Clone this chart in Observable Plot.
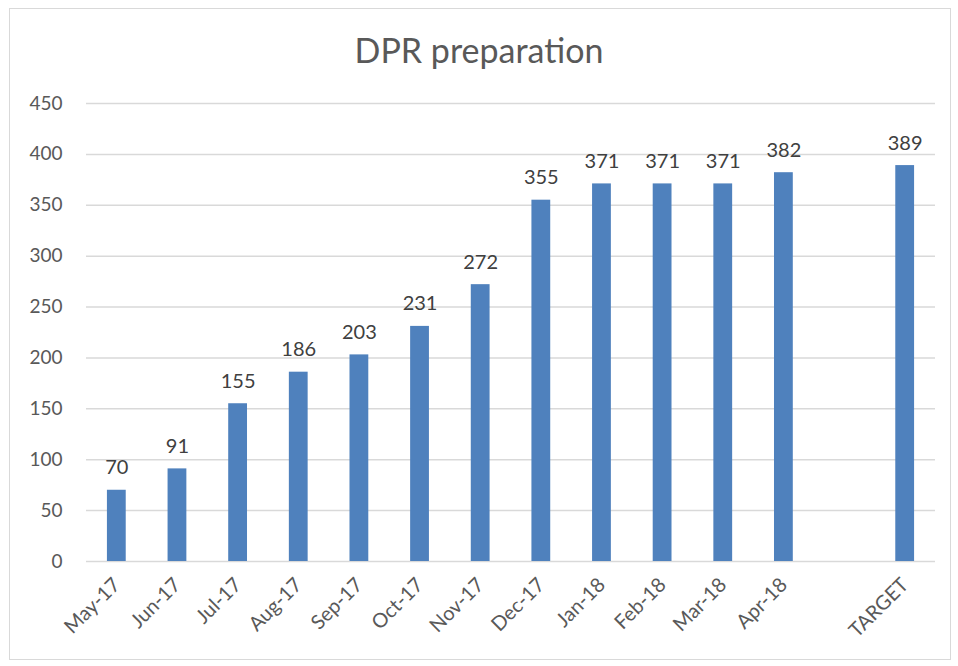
<!DOCTYPE html>
<html>
<head>
<meta charset="utf-8">
<script src="https://cdn.jsdelivr.net/npm/d3@7"></script>
<script src="https://cdn.jsdelivr.net/npm/@observablehq/plot@0.6"></script>
<style>
  html, body { margin: 0; padding: 0; background: #fff; }
  #frame { position: absolute; left: 9px; top: 8px; width: 942px; height: 652px; border: 1px solid #d9d9d9; box-sizing: border-box; }
  #chart { position: absolute; left: 0; top: 0; width: 958px; height: 666px; }
  #title { position: absolute; left: 0; top: 29px; width: 958px; text-align: center; font-family: Lato, "Open Sans", sans-serif; font-size: 34px; color: #595959; }
  #plot { position: absolute; left: 0; top: 85px; }
</style>
</head>
<body>
<div id="frame"></div>
<div id="chart">
  <div id="title">DPR preparation</div>
  <div id="plot"></div>
</div>
<script>
const categories = ["May-17","Jun-17","Jul-17","Aug-17","Sep-17","Oct-17","Nov-17","Dec-17","Jan-18","Feb-18","Mar-18","Apr-18","TARGET"];
const values = [70, 91, 155, 186, 203, 231, 272, 355, 371, 371, 371, 382, 389];
const axisDomain = [...categories.slice(0, 12), " ", "TARGET"];
const yTicks = [0, 50, 100, 150, 200, 250, 300, 350, 400, 450];

const data = categories.map((c, i) => ({cat: c, value: values[i]}));

const chart = Plot.plot({
  width: 958,
  height: 581,
  marginTop: 18,
  marginBottom: 105,
  marginLeft: 86,
  marginRight: 23,
  style: {fontFamily: "Lato, 'Open Sans', sans-serif", fontSize: "19px", color: "#595959", background: "transparent"},
  x: {domain: axisDomain, paddingInner: 0.69, paddingOuter: 0.345, round: false, label: null},
  y: {domain: [0, 450], ticks: yTicks, label: null},
  marks: [
    Plot.gridY(yTicks, {stroke: "#d9d9d9", strokeOpacity: 1, strokeWidth: 1.5}),
    Plot.barY(data, {x: "cat", y: "value", fill: "#4F81BD"}),
    Plot.text(data, {x: "cat", y: "value", text: d => String(d.value), lineAnchor: "bottom", dy: -16, fill: "#404040", fontSize: 20}),
    Plot.axisY({ticks: yTicks, tickSize: 0, tickPadding: 24, fontSize: 19, fill: "#595959"}),
    Plot.axisX({tickSize: 0, tickRotate: -45, tickPadding: 20, fontSize: 20, fill: "#595959", tickFormat: d => d.trim()})
  ]
});
document.getElementById("plot").appendChild(chart);
</script>
</body>
</html>
